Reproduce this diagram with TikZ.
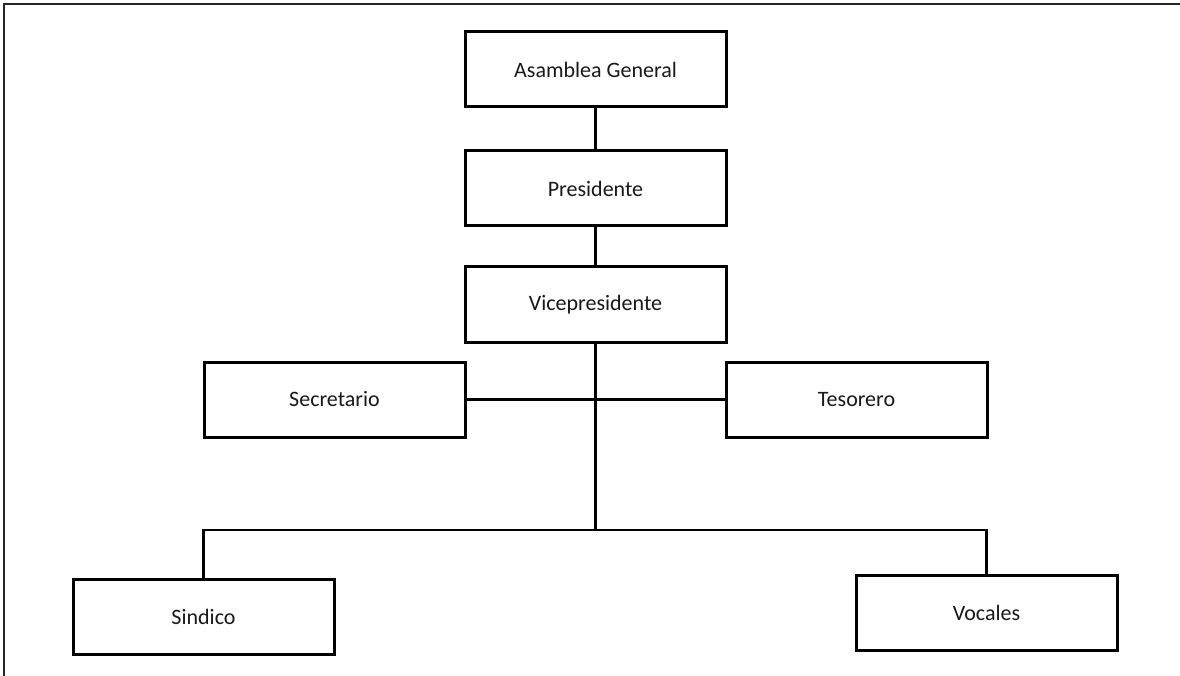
\documentclass[tikz,border=0pt]{standalone}
\usepackage{fontspec}
\setmainfont{Carlito}
\begin{document}
\begin{tikzpicture}[x=1pt,y=-1pt,
  orgbox/.style={draw=black, line width=3pt, fill=white, rectangle,
    minimum width=261pt, minimum height=75pt, inner sep=0pt,
    font=\fontsize{22pt}{25pt}\selectfont, text=black!90},
  link/.style={draw=black, line width=2.6pt},
  frameline/.style={draw=black!85, line width=2.2pt}]
  \useasboundingbox (0,0) rectangle (1180,676);
  % page frame (left and top edges)
  \coordinate (fbl) at (4,676);
  \coordinate (ftl) at (4,4);
  \coordinate (ftr) at (1180,4);
  \draw[frameline] (fbl) -- (ftl) -- (ftr);

  % units
  \node[orgbox] (asamblea) at (595.5,69.5) {Asamblea General};
  \node[orgbox] (presidente) at (595.5,188.5) {Presidente};
  \node[orgbox] (vice) at (595.5,304.5) {Vicepresidente};
  \node[orgbox] (secretario) at (334.5,399.5) {Secretario};
  \node[orgbox] (tesorero) at (856.5,399.5) {Tesorero};
  \node[orgbox] (sindico) at (203.5,617) {Sindico};
  \node[orgbox] (vocales) at (986.5,613) {Vocales};

  % branching points
  \coordinate (hub) at (595.5,530);
  \coordinate (hubl) at (sindico.north |- hub);
  \coordinate (hubr) at (vocales.north |- hub);

  % connectors
  \draw[link] (asamblea) -- (presidente);
  \draw[link] (presidente) -- (vice);
  \draw[link] (secretario.east) -- (tesorero.west);
  \draw[link] (vice.south) -- (hub);
  \draw[link] (sindico.north) -- (hubl) -- (hubr) -- (vocales.north);
\end{tikzpicture}
\end{document}
